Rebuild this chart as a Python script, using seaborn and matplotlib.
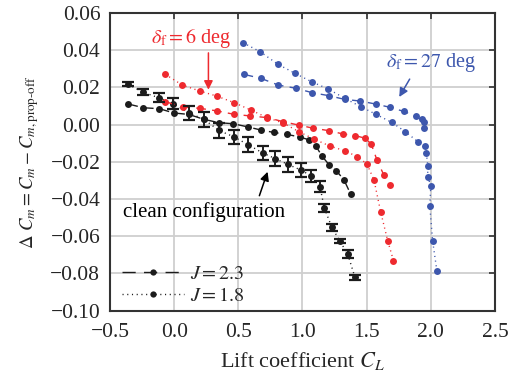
import matplotlib
matplotlib.use("Agg")
import matplotlib.pyplot as plt
import seaborn as sns
import pandas as pd
from matplotlib.lines import Line2D
from matplotlib.ticker import FuncFormatter

# ---- data ----
clean_j23_cl = [-0.357, -0.239, -0.116, -0.002, 0.115, 0.231, 0.347, 0.461, 0.574, 0.678,
                0.779, 0.878, 0.977, 1.054, 1.105, 1.151, 1.209, 1.265, 1.322, 1.376]
clean_j23_dcm = [0.0110, 0.0090, 0.0085, 0.0062, 0.0054, 0.0028, 0.0010, 0.0004, -0.0013, -0.0030,
                 -0.0043, -0.0053, -0.0067, -0.0083, -0.0116, -0.0169, -0.0218, -0.0250, -0.0296, -0.0375]

clean_j18_cl = [-0.358, -0.242, -0.120, -0.006, 0.115, 0.233, 0.349, 0.464, 0.575, 0.690,
                0.787, 0.888, 0.988, 1.070, 1.136, 1.171, 1.229, 1.291, 1.353, 1.409]
clean_j18_dcm = [0.0216, 0.0173, 0.0144, 0.0111, 0.0063, 0.0027, -0.0032, -0.0066, -0.0108, -0.0153,
                 -0.0183, -0.0215, -0.0245, -0.0277, -0.0334, -0.0451, -0.0553, -0.0626, -0.0698, -0.0822]
clean_j18_err = [0.0011, 0.0017, 0.0024, 0.0029, 0.0038, 0.0040, 0.0038, 0.0039, 0.0039, 0.0038,
                 0.0041, 0.0039, 0.0036, 0.0030, 0.0030, 0.0022, 0.0018, 0.0009, 0.0022, 0.0013]

f6_j23_cl = [-0.070, 0.066, 0.200, 0.335, 0.465, 0.593, 0.725, 0.851, 0.969, 1.084,
             1.205, 1.316, 1.412, 1.490, 1.536, 1.581, 1.634, 1.678]
f6_j23_dcm = [0.0123, 0.0094, 0.0087, 0.0073, 0.0055, 0.0046, 0.0037, 0.0015, -0.0003, -0.0020,
              -0.0033, -0.0051, -0.0060, -0.0074, -0.0106, -0.0192, -0.0272, -0.0325]

f6_j18_cl = [-0.070, 0.064, 0.200, 0.335, 0.469, 0.597, 0.721, 0.849, 0.973, 1.089,
             1.213, 1.329, 1.428, 1.502, 1.557, 1.609, 1.664, 1.709]
f6_j18_dcm = [0.0270, 0.0212, 0.0180, 0.0152, 0.0117, 0.0078, 0.0038, 0.0008, -0.0039, -0.0078,
              -0.0116, -0.0141, -0.0173, -0.0212, -0.0298, -0.0469, -0.0625, -0.0732]

f27_j23_cl = [0.541, 0.676, 0.812, 0.947, 1.076, 1.205, 1.329, 1.451, 1.570, 1.684,
              1.791, 1.882, 1.930, 1.943, 1.946]
f27_j23_dcm = [0.0270, 0.0248, 0.0212, 0.0195, 0.0171, 0.0155, 0.0135, 0.0126, 0.0110, 0.0092,
               0.0070, 0.0044, 0.0027, 0.0013, -0.0019]

f27_j18_cl = [0.536, 0.671, 0.808, 0.942, 1.071, 1.200, 1.329, 1.453, 1.575, 1.696,
              1.802, 1.898, 1.955, 1.965, 1.977, 1.975, 2.000, 1.992, 2.014, 2.048]
f27_j18_dcm = [0.0440, 0.0391, 0.0324, 0.0275, 0.0230, 0.0191, 0.0141, 0.0096, 0.0054, 0.0011,
               -0.0039, -0.0092, -0.0113, -0.0155, -0.0223, -0.0280, -0.0329, -0.0438, -0.0626, -0.0790]

x_ticks = [-0.5, 0.0, 0.5, 1.0, 1.5, 2.0, 2.5]
y_ticks = [-0.10, -0.08, -0.06, -0.04, -0.02, 0.00, 0.02, 0.04, 0.06]
legend_labels = [r"$J = 2.3$", r"$J = 1.8$"]

BLACK = "#1c1c1c"
RED = "#ee2a2f"
BLUE = "#3d57ad"
DASH = (0, (7, 4.5))
DOT = (0, (0.8, 2.6))

# ---- style ----
sns.set_style("whitegrid", {"grid.color": "#cfcfcf", "axes.edgecolor": "#333333"})
plt.rcParams["font.family"] = ["Liberation Serif", "DejaVu Serif"]
plt.rcParams["mathtext.fontset"] = "stix"

fig = plt.figure(figsize=(5.13, 3.75), dpi=100)
ax = fig.add_axes([0.2144, 0.172, 0.7505, 0.7936])

series = [
    ("clean J2.3", clean_j23_cl, clean_j23_dcm, BLACK, DASH),
    ("clean J1.8", clean_j18_cl, clean_j18_dcm, BLACK, DOT),
    ("f6 J2.3", f6_j23_cl, f6_j23_dcm, RED, DASH),
    ("f6 J1.8", f6_j18_cl, f6_j18_dcm, RED, DOT),
    ("f27 J2.3", f27_j23_cl, f27_j23_dcm, BLUE, DASH),
    ("f27 J1.8", f27_j18_cl, f27_j18_dcm, BLUE, DOT),
]

for name, xs, ys, col, ls in series:
    df = pd.DataFrame({"CL": xs, "dCm": ys})
    sns.lineplot(data=df, x="CL", y="dCm", ax=ax, sort=False, estimator=None,
                 color=col, linestyle=ls, linewidth=1.0, marker="o",
                 markersize=5, markeredgewidth=0, zorder=3)

ax.errorbar(clean_j18_cl, clean_j18_dcm, yerr=clean_j18_err, fmt="none",
            ecolor=BLACK, elinewidth=1.4, capsize=4.6, capthick=1.6, zorder=4)

ax.set_xlim(-0.5, 2.5)
ax.set_ylim(-0.10, 0.06)
ax.set_xticks(x_ticks)
ax.set_yticks(y_ticks)
ax.xaxis.set_major_formatter(FuncFormatter(lambda v, p: f"{v:.1f}".replace("-", "\u2212")))
ax.yaxis.set_major_formatter(FuncFormatter(lambda v, p: f"{v:.2f}".replace("-", "\u2212")))
ax.tick_params(direction="in", top=True, right=True, length=4, width=1.2,
               color="#333333", labelsize=15.5, pad=7)
ax.tick_params(axis="x", pad=9)
ax.grid(True, color="#cfcfcf", linewidth=1.3)
for s in ax.spines.values():
    s.set_linewidth(1.5)
    s.set_color("#333333")

ax.set_xlabel(r"Lift coefficient $C_L$", fontsize=16, labelpad=6)
ax.set_ylabel(r"$\Delta\ C_m = C_m - C_{m,\text{prop-off}}$", fontsize=13.5, labelpad=7)

# annotations
ax.text(0.13, 0.0465, r"$\delta_\mathrm{f} = 6$ deg", color=RED, fontsize=14.5,
        ha="center", va="center")
ax.annotate("", xy=(0.267, 0.0172), xytext=(0.267, 0.0400),
            arrowprops=dict(arrowstyle="-|>", color=RED, lw=1.1, mutation_scale=13))

ax.text(2.0, 0.0331, r"$\delta_\mathrm{f} = 27$ deg", color=BLUE, fontsize=14.5,
        ha="center", va="center")
ax.annotate("", xy=(1.743, 0.0135), xytext=(1.846, 0.0257),
            arrowprops=dict(arrowstyle="-|>", color=BLUE, lw=1.1, mutation_scale=13))

ax.text(0.233, -0.047, "clean configuration", color="black", fontsize=15,
        ha="center", va="center")
ax.annotate("", xy=(0.735, -0.0240), xytext=(0.657, -0.0397),
            arrowprops=dict(arrowstyle="-|>", color="black", lw=1.1, mutation_scale=13))

handles = [
    Line2D([], [], color=BLACK, linestyle=(0, (9.5, 6)), linewidth=1.0, marker="o",
           markersize=4.5, markeredgewidth=0),
    Line2D([], [], color=BLACK, linestyle=DOT, linewidth=1.0, marker="o",
           markersize=4.5, markeredgewidth=0),
]
ax.legend(handles, legend_labels, loc="lower left", bbox_to_anchor=(0.01, -0.012),
          frameon=False, fontsize=14.5, handlelength=3.1, handletextpad=0.3,
          labelspacing=0.15, borderaxespad=0.0, numpoints=1)

fig.savefig("out.png", dpi=100)
